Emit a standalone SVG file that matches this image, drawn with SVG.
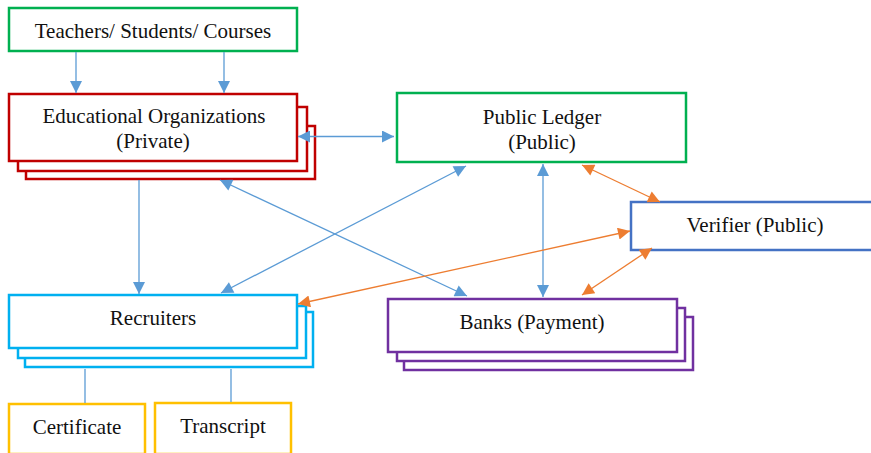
<svg xmlns="http://www.w3.org/2000/svg" width="871" height="453" viewBox="0 0 871 453">
<style>
text{font-family:"Liberation Serif","DejaVu Serif",serif;font-size:21px;fill:#111;text-anchor:middle}
rect{fill:#fff;stroke-width:2.5}
.g{stroke:#00B050}.r{stroke:#C00000}.c{stroke:#00B0F0}.p{stroke:#7030A0}.b{stroke:#4472C4}.y{stroke:#FFC000}
.lb{stroke:#5B9BD5;stroke-width:1.3;fill:none}
.lo{stroke:#ED7D31;stroke-width:1.3;fill:none}
</style>
<defs>
<marker id="ab" viewBox="0 0 10 10" refX="10" refY="5" markerWidth="15" markerHeight="12" markerUnits="userSpaceOnUse" orient="auto-start-reverse"><path d="M0,0 L10,5 L0,10 z" fill="#5B9BD5"/></marker>
<marker id="ao" viewBox="0 0 10 10" refX="10" refY="5" markerWidth="15" markerHeight="12" markerUnits="userSpaceOnUse" orient="auto-start-reverse"><path d="M0,0 L10,5 L0,10 z" fill="#ED7D31"/></marker>
</defs>
<g id="teachers"><rect class="g" x="9" y="8" width="288" height="43"/><text x="153" y="38">Teachers/ Students/ Courses</text></g>
<g id="edu">
<rect class="r" x="26" y="126" width="289" height="53"/>
<rect class="r" x="18" y="107" width="289" height="64"/>
<rect class="r" x="9" y="94" width="288" height="67"/>
<text x="154" y="123">Educational Organizations</text><text x="153" y="148">(Private)</text></g>
<g id="ledger"><rect class="g" x="397" y="93" width="289" height="69"/><text x="542" y="124">Public Ledger</text><text x="542" y="149">(Public)</text></g>
<g id="verifier"><rect class="b" x="631" y="202" width="245" height="48"/><text x="755" y="232">Verifier (Public)</text></g>
<g id="recruiters">
<rect class="c" x="25" y="312" width="288" height="55"/>
<rect class="c" x="18" y="306" width="288" height="52"/>
<rect class="c" x="9" y="295" width="288" height="53"/>
<text x="153" y="325">Recruiters</text></g>
<g id="banks">
<rect class="p" x="404" y="317" width="289" height="53"/>
<rect class="p" x="397" y="308" width="288" height="53"/>
<rect class="p" x="388" y="299" width="289" height="53"/>
<text x="532" y="329">Banks (Payment)</text></g>
<g id="certificate"><rect class="y" x="9" y="404" width="136" height="50"/><text x="77" y="434">Certificate</text></g>
<g id="transcript"><rect class="y" x="155" y="403" width="136" height="51"/><text x="223" y="433">Transcript</text></g>
<g id="connectors">
<line class="lb" x1="76" y1="52" x2="76" y2="93" marker-end="url(#ab)"/>
<line class="lb" x1="224" y1="52" x2="224" y2="93" marker-end="url(#ab)"/>
<line class="lb" x1="298" y1="136.5" x2="394" y2="136.5" marker-start="url(#ab)" marker-end="url(#ab)"/>
<line class="lb" x1="139" y1="180" x2="139" y2="294" marker-end="url(#ab)"/>
<line class="lb" x1="220" y1="180" x2="467" y2="296" marker-start="url(#ab)" marker-end="url(#ab)"/>
<line class="lb" x1="221" y1="293" x2="466" y2="166" marker-start="url(#ab)" marker-end="url(#ab)"/>
<line class="lb" x1="543" y1="164" x2="543" y2="297" marker-start="url(#ab)" marker-end="url(#ab)"/>
<line class="lo" x1="582" y1="165" x2="660" y2="202" marker-start="url(#ao)" marker-end="url(#ao)"/>
<line class="lo" x1="298" y1="304" x2="630" y2="231" marker-start="url(#ao)" marker-end="url(#ao)"/>
<line class="lo" x1="582" y1="295" x2="652" y2="248" marker-start="url(#ao)" marker-end="url(#ao)"/>
<line class="lb" x1="85" y1="369" x2="85" y2="403"/>
<line class="lb" x1="231" y1="369" x2="231" y2="402"/>
</g>
</svg>
